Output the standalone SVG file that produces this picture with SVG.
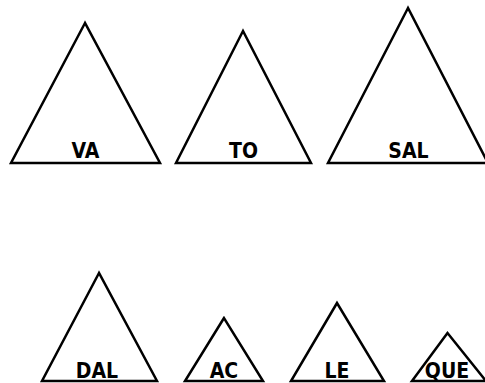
<svg xmlns="http://www.w3.org/2000/svg" width="485" height="383" viewBox="0 0 485 383">
<style>
.t{fill:#fff;stroke:#000;stroke-width:2.5;stroke-linejoin:miter}
.l{font-family:"DejaVu Sans Condensed","DejaVu Sans",sans-serif;font-weight:bold;font-size:21px;text-anchor:middle;fill:#000}
</style>
<rect width="485" height="383" fill="#fff"/>
<g id="connectors"/>
<g id="VA"><polygon class="t" points="85,23 11,163 160,163"/><text class="l" x="85.5" y="157.5">VA</text></g>
<g id="TO"><polygon class="t" points="243,31 176,163 311,163"/><text class="l" x="243.5" y="157.5">TO</text></g>
<g id="SAL"><polygon class="t" points="408,8 328,163 488,163"/><text class="l" x="408.5" y="157.5">SAL</text></g>
<g id="DAL"><polygon class="t" points="99,273 42,381 157,381"/><text class="l" x="97" y="377.5">DAL</text></g>
<g id="AC"><polygon class="t" points="224,318 185,381 263,381"/><text class="l" x="224" y="377.5">AC</text></g>
<g id="LE"><polygon class="t" points="337,303 291,381 384,381"/><text class="l" x="337" y="377.5">LE</text></g>
<g id="QUE"><polygon class="t" points="447.5,333 412,381 486,381"/><text class="l" x="447" y="377.5">QUE</text></g>
</svg>
